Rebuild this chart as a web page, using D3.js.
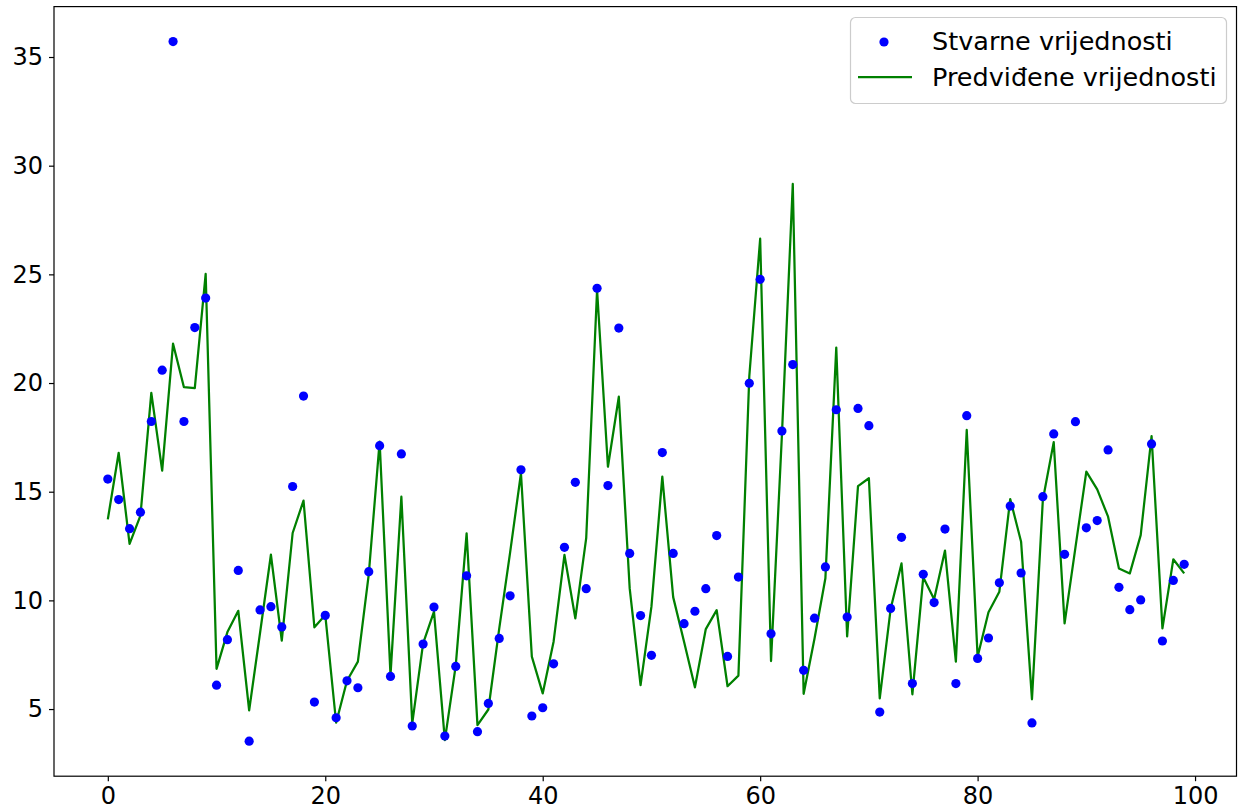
<!DOCTYPE html>
<html>
<head>
<meta charset="utf-8">
<script src="https://cdn.jsdelivr.net/npm/d3@7"></script>
<style>
  html, body { margin: 0; padding: 0; background: #fff; }
  svg { display: block; }
  text { font-family: "DejaVu Sans", sans-serif; }
</style>
</head>
<body>
<div id="chart"></div>
<script>
// ---- Data ----
const actualValues = [
  15.58, 14.64, 13.30, 14.06, 18.23, 20.59, 35.71, 18.23, 22.55, 23.91,
  6.10, 8.19, 11.38, 3.52, 9.56, 9.71, 8.78, 15.24, 19.40, 5.32,
  9.31, 4.60, 6.30, 5.98, 11.32, 17.12, 6.50, 16.74, 4.22, 7.99,
  9.69, 3.76, 6.96, 11.13, 3.96, 5.26, 8.25, 10.21, 16.01, 4.68,
  5.06, 7.08, 12.44, 15.43, 10.54, 24.36, 15.28, 22.53, 12.16, 9.30,
  7.47, 16.80, 12.16, 8.93, 9.50, 10.54, 12.98, 7.42, 11.07, 19.99,
  24.77, 8.46, 17.79, 20.85, 6.78, 9.18, 11.54, 18.77, 9.23, 18.83,
  18.04, 4.86, 9.63, 12.90, 6.17, 11.20, 9.90, 13.28, 6.17, 18.50,
  7.33, 8.27, 10.81, 14.34, 11.26, 4.36, 14.77, 17.66, 12.12, 18.22,
  13.34, 13.67, 16.92, 10.60, 9.57, 10.02, 17.20, 8.13, 10.92, 11.66
];
const predictedValues = [
  13.73, 16.79, 12.60, 13.90, 19.55, 15.97, 21.81, 19.81, 19.77, 25.02,
  6.85, 8.54, 9.52, 4.94, 8.50, 12.10, 8.15, 13.10, 14.59, 8.76,
  9.33, 4.37, 6.30, 7.18, 11.20, 17.30, 6.56, 14.77, 4.34, 8.02,
  9.48, 3.57, 7.00, 13.08, 4.26, 4.98, 8.70, 12.20, 15.85, 7.41,
  5.72, 8.10, 12.09, 9.17, 12.86, 24.28, 16.15, 19.37, 10.55, 6.10,
  9.71, 15.69, 10.15, 8.10, 6.00, 8.68, 9.55, 6.05, 6.54, 20.30,
  26.64, 7.21, 17.60, 29.16, 5.70, 8.25, 11.02, 21.63, 8.34, 15.26,
  15.62, 5.49, 9.60, 11.70, 5.68, 11.06, 10.05, 12.29, 7.18, 17.84,
  7.41, 9.45, 10.40, 14.66, 12.70, 5.45, 14.62, 17.28, 8.94, 12.44,
  15.92, 15.11, 13.85, 11.47, 11.24, 13.00, 17.56, 8.71, 11.89, 11.24
];
const indices = d3.range(actualValues.length);
const xTicks = [0, 20, 40, 60, 80, 100];
const yTicks = [5, 10, 15, 20, 25, 30, 35];
const legendLabels = ["Stvarne vrijednosti", "Predviđene vrijednosti"];

// ---- Layout ----
const W = 1238, H = 811;
const plot = { left: 54, right: 1238, top: 6.6, bottom: 776.2 };
const fontSize = 24;
const legendFontSize = 25.5;
const dotColor = "#0000ff";
const lineColor = "#008000";

const svg = d3.select("#chart").append("svg")
  .attr("width", W).attr("height", H);

const xPad = 0.05 * (d3.max(indices) - d3.min(indices));
const x = d3.scaleLinear()
  .domain([d3.min(indices) - xPad, d3.max(indices) + xPad])
  .range([plot.left, plot.right]);

const allVals = actualValues.concat(predictedValues);
const yMin = d3.min(allVals), yMax = d3.max(allVals);
const yPad = 0.05 * (yMax - yMin);
const y = d3.scaleLinear()
  .domain([yMin - yPad, yMax + yPad])
  .range([plot.bottom, plot.top]);

// clip
svg.append("defs").append("clipPath").attr("id", "clip")
  .append("rect")
  .attr("x", plot.left).attr("y", plot.top)
  .attr("width", plot.right - plot.left).attr("height", plot.bottom - plot.top);

const g = svg.append("g").attr("clip-path", "url(#clip)");

// predicted line
const line = d3.line()
  .x((d, i) => x(i))
  .y(d => y(d));
g.append("path")
  .datum(predictedValues)
  .attr("fill", "none")
  .attr("stroke", lineColor)
  .attr("stroke-width", 2.25)
  .attr("stroke-linejoin", "round")
  .attr("stroke-linecap", "butt")
  .attr("d", line);

// actual points
g.selectAll("circle.pt")
  .data(actualValues)
  .enter().append("circle")
  .attr("class", "pt")
  .attr("cx", (d, i) => x(i))
  .attr("cy", d => y(d))
  .attr("r", 4.6)
  .attr("fill", dotColor);

// axes
const xAxis = d3.axisBottom(x).tickValues(xTicks).tickSize(5).tickPadding(6)
  .tickFormat(d3.format("d"));
const yAxis = d3.axisLeft(y).tickValues(yTicks).tickSize(5).tickPadding(6)
  .tickFormat(d3.format("d"));

const gx = svg.append("g")
  .attr("transform", `translate(0,${plot.bottom})`)
  .call(xAxis);
const gy = svg.append("g")
  .attr("transform", `translate(${plot.left},0)`)
  .call(yAxis);

[gx, gy].forEach(ax => {
  ax.select(".domain").remove();
  ax.selectAll(".tick line").attr("stroke", "#000").attr("stroke-width", 1.2);
  ax.selectAll(".tick text")
    .attr("fill", "#000")
    .style("font-size", fontSize + "px")
    .style("font-family", "'DejaVu Sans', sans-serif");
});

// frame
svg.append("rect")
  .attr("x", plot.left).attr("y", plot.top)
  .attr("width", plot.right - plot.left - 1.5)
  .attr("height", plot.bottom - plot.top)
  .attr("fill", "none")
  .attr("stroke", "#000")
  .attr("stroke-width", 1.2);

// legend
const lg = svg.append("g").attr("class", "legend");
lg.append("rect")
  .attr("x", 850.5).attr("y", 17.5)
  .attr("width", 376).attr("height", 86)
  .attr("rx", 5).attr("ry", 5)
  .attr("fill", "#fff").attr("fill-opacity", 0.8)
  .attr("stroke", "#cccccc").attr("stroke-width", 1.2);

lg.append("circle")
  .attr("cx", 884).attr("cy", 42).attr("r", 4.6)
  .attr("fill", dotColor);
lg.append("line")
  .attr("x1", 858).attr("x2", 912)
  .attr("y1", 77).attr("y2", 77)
  .attr("stroke", lineColor).attr("stroke-width", 2.25);

lg.selectAll("text.lbl")
  .data(legendLabels)
  .enter().append("text")
  .attr("class", "lbl")
  .attr("x", 932)
  .attr("y", (d, i) => 50 + i * 36)
  .attr("fill", "#000")
  .style("font-size", legendFontSize + "px")
  .text(d => d);
</script>
</body>
</html>
